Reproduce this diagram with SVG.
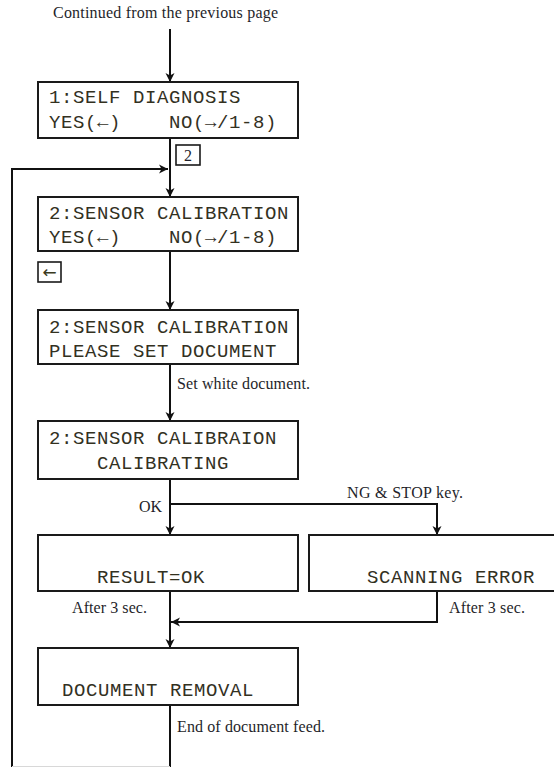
<svg xmlns="http://www.w3.org/2000/svg" width="554" height="767" viewBox="0 0 554 767">
<style>
.box{fill:#fff;stroke:#1a1a1a;stroke-width:2}
.tag{fill:#fff;stroke:#1a1a1a;stroke-width:1.6}
.mono{font-family:"Liberation Mono","Courier New",monospace;font-size:19px;letter-spacing:0.6px;fill:#33311f}
.lbl{font-family:"Liberation Serif","Times New Roman",serif;font-size:16px;fill:#1f1f2a}
.ln{fill:none;stroke:#111;stroke-width:2}
</style>
<defs>
<marker id="ah" markerUnits="userSpaceOnUse" markerWidth="10" markerHeight="10" refX="9" refY="5" orient="auto">
<path d="M0,0.5 L9,5 L0,9.5 L2.5,5 Z" fill="#111"/>
</marker>
</defs>
<rect width="554" height="767" fill="#fff"/>
<text class="lbl" x="53" y="18" textLength="225" lengthAdjust="spacing">Continued from the previous page</text>
<g id="connectors">
<line class="ln" x1="170" y1="29" x2="170" y2="82" marker-end="url(#ah)"/>
<line class="ln" x1="170" y1="138" x2="170" y2="197" marker-end="url(#ah)"/>
<polyline class="ln" points="12,767 12,169 168,169" marker-end="url(#ah)"/>
<line class="ln" x1="170" y1="251" x2="170" y2="310" marker-end="url(#ah)"/>
<line class="ln" x1="170" y1="364" x2="170" y2="421" marker-end="url(#ah)"/>
<line class="ln" x1="170" y1="479" x2="170" y2="535" marker-end="url(#ah)"/>
<polyline class="ln" points="170,504 437,504 437,535" marker-end="url(#ah)"/>
<line class="ln" x1="170" y1="591" x2="170" y2="648" marker-end="url(#ah)"/>
<polyline class="ln" points="437,591 437,622 171,622" marker-end="url(#ah)"/>
<line class="ln" x1="170" y1="705" x2="170" y2="767"/>
<line x1="12" y1="766.5" x2="170" y2="766.5" stroke="#d8d8d8" stroke-width="1"/>
<text class="lbl" x="177" y="389" textLength="133" lengthAdjust="spacing">Set white document.</text>
<text class="lbl" x="139" y="512">OK</text>
<text class="lbl" x="347" y="498" textLength="116" lengthAdjust="spacing">NG &amp; STOP key.</text>
<text class="lbl" x="72" y="613" textLength="75" lengthAdjust="spacing">After 3 sec.</text>
<text class="lbl" x="449" y="613" textLength="76" lengthAdjust="spacing">After 3 sec.</text>
<text class="lbl" x="177" y="732" textLength="148" lengthAdjust="spacing">End of document feed.</text>
</g>
<g id="n1">
<rect class="box" x="38" y="82" width="260" height="56"/>
<text class="mono" x="49" y="103">1:SELF DIAGNOSIS</text>
<text class="mono" x="49" y="128">YES(←)</text>
<text class="mono" x="169" y="128">NO(→/1-8)</text>
</g>
<g id="tag2">
<rect class="tag" x="176" y="145" width="24" height="20"/>
<text class="lbl" x="188" y="161" text-anchor="middle" font-size="14">2</text>
</g>
<g id="n2">
<rect class="box" x="38" y="197" width="260" height="54"/>
<text class="mono" x="49" y="219">2:SENSOR CALIBRATION</text>
<text class="mono" x="49" y="243">YES(←)</text>
<text class="mono" x="169" y="243">NO(→/1-8)</text>
</g>
<g id="tagleft">
<rect class="tag" x="38" y="262" width="23" height="20"/>
<text x="49.5" y="278" text-anchor="middle" font-family="DejaVu Sans, sans-serif" font-size="17" fill="#3a3a20">←</text>
</g>
<g id="n3">
<rect class="box" x="38" y="310" width="260" height="54"/>
<text class="mono" x="49" y="333">2:SENSOR CALIBRATION</text>
<text class="mono" x="49" y="357">PLEASE SET DOCUMENT</text>
</g>
<g id="n4">
<rect class="box" x="38" y="421" width="260" height="58"/>
<text class="mono" x="49" y="444">2:SENSOR CALIBRAION</text>
<text class="mono" x="97" y="469">CALIBRATING</text>
</g>
<g id="n5">
<rect class="box" x="38" y="535" width="260" height="56"/>
<text class="mono" x="97" y="583">RESULT=OK</text>
</g>
<g id="n6">
<rect class="box" x="309" y="535" width="260" height="56"/>
<text class="mono" x="367" y="583">SCANNING ERROR</text>
</g>
<g id="n7">
<rect class="box" x="38" y="648" width="260" height="57"/>
<text class="mono" x="62" y="696">DOCUMENT REMOVAL</text>
</g>
</svg>
